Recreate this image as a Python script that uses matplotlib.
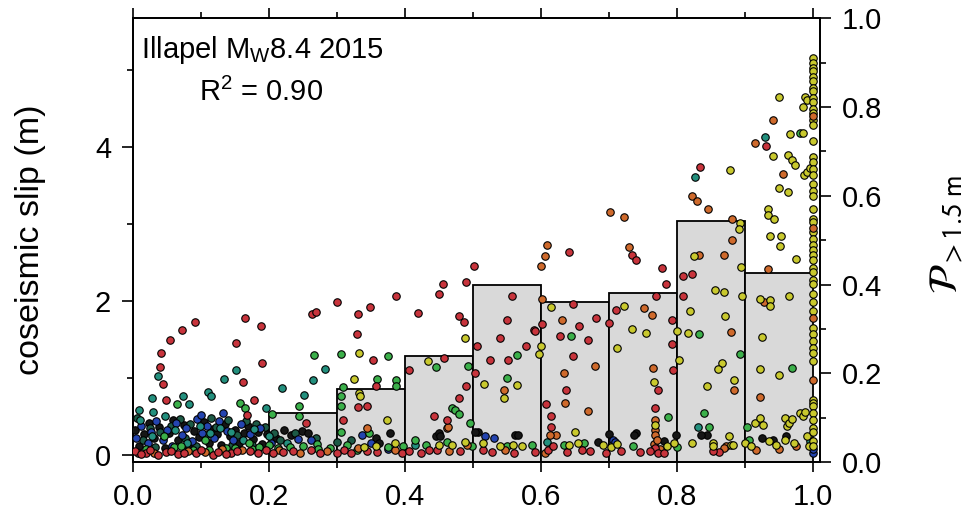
import numpy as np
import matplotlib
matplotlib.use("Agg")
import matplotlib.pyplot as plt
from matplotlib.ticker import MultipleLocator, FormatStrFormatter

plt.rcParams['font.family'] = ['Liberation Sans', 'DejaVu Sans']
plt.rcParams['mathtext.fontset'] = 'custom'
plt.rcParams['mathtext.rm'] = 'Liberation Sans'
plt.rcParams['mathtext.it'] = 'Liberation Sans:italic'
plt.rcParams['mathtext.bf'] = 'Liberation Sans:bold'

# ---------------------------------------------------------------- data
# probability of slip > 1.5 m per 0.1-wide bin of the rupture fraction
bin_left = [0.0, 0.1, 0.2, 0.3, 0.4, 0.5, 0.6, 0.7, 0.8, 0.9]
bin_prob = [0.0, 0.0, 0.110, 0.164, 0.240, 0.399, 0.362, 0.381, 0.543, 0.426]

# coseismic slip samples (fraction, slip in m), grouped by colour class
red_frac = [0.041, 0.040, 0.043, 0.054, 0.072, 0.091, 0.048, 0.151, 0.164, 0.188, 0.190, 0.161, 0.177, 0.167,
            0.263, 0.269, 0.299, 0.331, 0.329, 0.348, 0.386, 0.353, 0.357, 0.343, 0.331, 0.309, 0.419, 0.406, 0.254,
            0.501, 0.489, 0.456, 0.450, 0.479, 0.486, 0.557, 0.550, 0.540, 0.589, 0.505, 0.577, 0.457, 0.502, 0.524,
            0.551, 0.489, 0.479, 0.442, 0.461,
            0.640, 0.734, 0.739, 0.777, 0.784, 0.808, 0.822, 0.809, 0.769, 0.792, 0.792, 0.793, 0.710, 0.699, 0.771,
            0.767, 0.646, 0.656, 0.681, 0.601, 0.591, 0.627, 0.669, 0.646, 0.637, 0.607, 0.614, 0.614, 0.931, 0.833,
            0.007, 0.019, 0.048, 0.066, 0.092, 0.117, 0.144, 0.172, 0.220, 0.262, 0.300, 0.343, 0.359, 0.435, 0.447,
            0.480, 0.527, 0.591, 0.610, 0.617, 0.672, 0.717, 0.767, 0.772, 0.862,
            0.002, 0.012, 0.025, 0.036, 0.056, 0.075, 0.099, 0.124, 0.137, 0.153, 0.183, 0.195, 0.205, 0.235, 0.275,
            0.310, 0.320, 0.395, 0.405, 0.423, 0.515, 0.560, 0.638, 0.660, 0.695, 0.745, 0.760, 0.780, 0.853]
red_slip = [1.33, 1.14, 0.92, 1.49, 1.62, 1.72, 0.71, 1.45, 1.78, 1.67, 1.19, 0.95, 0.72, 0.52,
            1.83, 1.85, 1.99, 1.83, 1.57, 1.92, 2.06, 1.23, 0.90, 0.64, 0.62, 0.45, 1.84, 1.10, 0.42,
            2.45, 2.24, 2.22, 2.09, 1.81, 1.72, 2.07, 1.75, 1.52, 1.62, 1.41, 1.41, 1.26, 1.07, 1.23,
            1.23, 0.90, 0.74, 0.51, 0.46,
            2.63, 2.60, 2.53, 2.43, 2.22, 2.33, 2.35, 2.06, 2.07, 1.75, 1.44, 1.10, 1.88, 1.71, 0.84,
            0.61, 1.96, 1.68, 1.78, 1.70, 1.61, 1.55, 1.49, 1.29, 0.84, 0.66, 0.50, 0.36, 4.01, 3.74,
            0.03, 0.02, 0.04, 0.01, 0.03, 0.00, 0.02, 0.05, 0.04, 0.06, 0.03, 0.05, 0.04, 0.06, 0.07,
            0.05, 0.04, 0.04, 0.06, 0.12, 0.05, 0.05, 0.09, 0.03, 0.04,
            0.05, 0.01, 0.06, 0.00, 0.05, 0.02, 0.06, 0.04, 0.01, 0.05, 0.03, 0.07, 0.02, 0.05, 0.03,
            0.06, 0.02, 0.03, 0.05, 0.03, 0.06, 0.03, 0.04, 0.06, 0.02, 0.04, 0.05, 0.03, 0.05]

orange_frac = [0.343, 0.545, 0.821, 0.829, 0.701, 0.722, 0.608, 0.605, 0.599, 0.729, 0.832, 0.751, 0.763, 0.764,
               0.767, 0.767, 0.767, 0.601, 0.631, 0.679, 0.633, 0.635, 0.668, 0.880, 0.881, 0.868, 0.879, 0.884,
               0.872, 0.934, 0.928, 0.922, 0.940, 0.914, 0.956, 0.845, 0.461, 0.463, 0.621, 0.613,
               0.030, 0.080, 0.105, 0.130, 0.160, 0.215, 0.245, 0.285, 0.330, 0.385, 0.465, 0.491, 0.546, 0.605,
               0.765, 0.770, 0.775, 0.868, 0.915, 0.950, 0.975]
orange_slip = [0.35, 0.84, 3.36, 3.30, 3.16, 3.09, 2.72, 2.58, 2.46, 2.70, 2.59, 1.91, 1.82, 1.13,
               0.45, 0.32, 0.26, 2.03, 1.75, 1.15, 1.06, 0.68, 0.57, 3.07, 2.79, 2.60, 1.60, 0.84,
               0.11, 2.42, 1.98, 0.75, 4.35, 4.05, 3.65, 3.19, 0.35, 0.36, 0.26, 0.26,
               0.03, 0.05, 0.04, 0.08, 0.06, 0.07, 0.02, 0.05, 0.09, 0.06, 0.05, 0.13, 0.06, 0.03,
               0.14, 0.20, 0.08, 0.09, 0.06, 0.08, 0.12]

yellow_frac = [0.332, 0.325, 0.332, 0.333, 0.373, 0.488, 0.434, 0.565, 0.516, 0.545, 0.824, 0.818, 0.799, 0.815,
               0.803, 0.844, 0.722, 0.733, 0.754, 0.712, 0.765, 0.767, 0.615, 0.599, 0.596, 0.650, 0.892, 0.891,
               0.894, 0.855, 0.869, 0.895, 0.870, 0.865, 0.860, 0.884, 0.876, 0.879, 0.853, 0.922, 0.937, 0.937,
               0.964, 0.924, 0.922, 0.950, 0.914, 0.921, 0.926, 0.958, 0.961, 0.964, 0.969, 0.980, 0.985, 0.988,
               0.988, 0.991, 0.985, 0.949, 0.965, 0.940, 0.963, 0.968, 0.973, 0.987, 0.991, 0.995, 0.950, 0.963,
               0.934, 0.934, 0.942, 0.937, 0.953, 0.951, 0.974, 0.877, 0.985,
               0.339, 0.357, 0.385, 0.449, 0.468, 0.488, 0.515, 0.540, 0.559, 0.571, 0.640, 0.654, 0.690, 0.702,
               0.712, 0.785, 0.795, 0.821, 0.853, 0.882, 0.900, 0.908, 0.935, 0.945, 0.958, 0.972, 0.990, 0.993]
yellow_slip = [1.33, 0.99, 0.80, 0.76, 0.45, 1.52, 1.22, 0.91, 0.92, 0.74, 2.58, 1.87, 1.61, 1.59,
               1.23, 0.89, 1.94, 1.63, 1.59, 1.39, 0.95, 0.39, 1.92, 1.41, 1.31, 0.30, 3.01, 2.94,
               2.44, 2.14, 2.11, 2.06, 1.81, 1.20, 1.11, 0.97, 0.24, 0.13, 0.15, 2.03, 2.01, 1.93,
               2.06, 1.53, 1.12, 1.04, 0.42, 0.48, 0.39, 0.48, 0.37, 0.41, 0.47, 0.54, 0.50, 0.56,
               4.65, 4.61, 4.52, 4.65, 4.17, 3.88, 3.90, 3.83, 3.77, 3.64, 3.68, 3.72, 3.46, 3.41,
               3.20, 3.12, 3.07, 2.84, 2.84, 2.71, 2.55, 3.70, 4.18,
               0.10, 0.11, 0.15, 0.13, 0.13, 0.17, 0.15, 0.12, 0.13, 0.11, 0.13, 0.15, 0.13, 0.10,
               0.14, 0.12, 0.15, 0.15, 0.12, 0.13, 0.15, 0.11, 0.18, 0.13, 0.20, 0.16, 0.25, 0.12]

# samples lying on the far edge of the rupture (fraction = 1.0)
edge_frac = 1.0
edge_yellow_slip = [5.16, 5.09, 5.03, 4.98, 4.91, 4.85, 4.77, 4.72, 4.63, 4.58, 4.49, 4.44, 4.35, 4.28,
                    4.08, 3.87, 3.80, 3.71, 3.64, 3.52, 3.43, 3.36, 3.19, 3.07, 3.02, 2.89, 2.80, 2.73,
                    2.66, 2.59, 2.53, 2.43, 2.37, 2.27, 2.22, 2.09, 1.98, 1.87, 1.65, 1.57, 1.48, 1.39,
                    1.33, 1.22, 0.72, 0.67, 0.63, 0.54, 0.46, 0.35, 0.30, 0.18, 0.11]
edge_orange_slip = [4.40, 2.95, 1.78, 0.97]

green_frac = [0.065, 0.157, 0.165, 0.204, 0.243, 0.244, 0.266, 0.306, 0.375, 0.358, 0.386, 0.387, 0.309, 0.306,
              0.306, 0.346, 0.445, 0.492, 0.564, 0.549, 0.469, 0.473, 0.479, 0.495, 0.832, 0.839, 0.847, 0.787,
              0.644, 0.892, 0.968, 0.305, 0.980,
              0.060, 0.088, 0.112, 0.150, 0.175, 0.200, 0.230, 0.270, 0.290, 0.314, 0.329, 0.375, 0.397, 0.414,
              0.431, 0.461, 0.498, 0.549, 0.586, 0.633, 0.663, 0.735, 0.800, 0.902, 0.905,
              0.018, 0.045, 0.070, 0.105, 0.137, 0.170, 0.185, 0.213, 0.250, 0.272]
green_slip = [0.66, 0.68, 0.61, 0.53, 0.64, 0.50, 1.30, 1.31, 1.28, 0.99, 0.97, 0.90, 0.88, 0.76,
              0.63, 0.28, 1.14, 1.16, 1.30, 1.00, 0.61, 0.58, 0.53, 0.42, 1.57, 0.54, 0.36, 0.49,
              1.55, 1.31, 1.13, 0.30, 4.18,
              0.10, 0.07, 0.06, 0.09, 0.08, 0.13, 0.10, 0.14, 0.09, 0.13, 0.07, 0.10, 0.11, 0.19,
              0.13, 0.17, 0.11, 0.11, 0.13, 0.13, 0.15, 0.11, 0.10, 0.36, 0.20,
              0.08, 0.25, 0.12, 0.20, 0.09, 0.15, 0.10, 0.09, 0.12, 0.08]

teal_frac = [0.036, 0.027, 0.073, 0.082, 0.110, 0.115, 0.133, 0.151, 0.195, 0.218, 0.251, 0.265, 0.282, 0.831,
             0.826, 0.929, 0.008, 0.029, 0.414, 0.608, 0.995,
             0.010, 0.028, 0.047, 0.062, 0.079, 0.098, 0.113, 0.128, 0.143, 0.161, 0.178, 0.199, 0.226]
teal_slip = [1.03, 0.74, 0.76, 0.66, 0.82, 0.76, 0.99, 1.10, 0.61, 0.87, 0.78, 0.97, 1.12, 0.36,
             3.61, 4.13, 0.58, 0.56, 0.13, 0.17, 0.18,
             0.45, 0.25, 0.50, 0.32, 0.15, 0.38, 0.28, 0.35, 0.30, 0.20, 0.34, 0.24, 0.15]

blue_frac = [0.004, 0.012, 0.021, 0.026, 0.034, 0.043, 0.049, 0.057, 0.063, 0.071, 0.078, 0.086, 0.094, 0.101,
             0.099, 0.108, 0.119, 0.126, 0.132, 0.138, 0.147, 0.158, 0.171, 0.186, 0.203, 0.242, 0.262, 0.336,
             0.350, 0.374, 0.530, 0.517, 0.705, 0.708, 0.999, 1.000]
blue_slip = [0.22, 0.38, 0.15, 0.30, 0.44, 0.20, 0.33, 0.12, 0.41, 0.26, 0.35, 0.18, 0.47, 0.29,
             0.52, 0.38, 0.22, 0.44, 0.54, 0.31, 0.19, 0.40, 0.27, 0.35, 0.16, 0.21, 0.19, 0.26,
             0.15, 0.08, 0.22, 0.24, 0.20, 0.17, 0.03, 0.08]

black_frac = [0.002, 0.009, 0.016, 0.023, 0.031, 0.038, 0.046, 0.052, 0.059, 0.066, 0.074, 0.081, 0.089, 0.096,
              0.104, 0.111, 0.117, 0.123, 0.129, 0.135, 0.142, 0.150, 0.156, 0.163, 0.169, 0.176, 0.183, 0.190,
              0.197, 0.210, 0.221, 0.232, 0.248, 0.257, 0.357, 0.361, 0.377, 0.445, 0.449, 0.451, 0.507, 0.503,
              0.561, 0.566, 0.683, 0.699, 0.739, 0.737, 0.780, 0.798, 0.843, 0.835, 0.925, 0.940, 0.960]
black_slip = [0.33, 0.12, 0.27, 0.42, 0.22, 0.36, 0.09, 0.28, 0.45, 0.19, 0.39, 0.12, 0.31, 0.23,
              0.43, 0.15, 0.34, 0.27, 0.13, 0.40, 0.24, 0.33, 0.16, 0.29, 0.38, 0.21, 0.30, 0.14,
              0.27, 0.22, 0.33, 0.26, 0.31, 0.28, 0.22, 0.15, 0.28, 0.25, 0.28, 0.24, 0.30, 0.30,
              0.26, 0.26, 0.17, 0.27, 0.28, 0.26, 0.18, 0.26, 0.26, 0.26, 0.22, 0.20, 0.24]

dark_frac = [0.006, 0.014, 0.024, 0.032, 0.040, 0.055, 0.068, 0.076, 0.084, 0.092, 0.107, 0.114, 0.121, 0.140,
             0.145, 0.153, 0.166, 0.174, 0.180, 0.194, 0.207, 0.216, 0.238, 0.268, 0.300, 0.320]
dark_slip = [0.48, 0.20, 0.35, 0.10, 0.30, 0.38, 0.47, 0.22, 0.40, 0.11, 0.26, 0.48, 0.36, 0.45,
             0.13, 0.26, 0.44, 0.13, 0.40, 0.36, 0.28, 0.19, 0.29, 0.22, 0.17, 0.20]

# ---------------------------------------------------------------- figure
fig = plt.figure(figsize=(9.75, 5.21), dpi=100)
ax = fig.add_axes([0.1367, 0.1127, 0.7043, 0.8522])
axp = ax.twinx()
ax.set_zorder(axp.get_zorder() + 1)
ax.patch.set_visible(False)

# probability histogram on the right-hand scale
axp.bar(bin_left, bin_prob, width=0.1, align='edge', color='#d9d9d9',
        edgecolor='black', linewidth=1.3)
axp.set_ylim(0, 1.0)
axp.yaxis.set_major_locator(MultipleLocator(0.2))
axp.yaxis.set_minor_locator(MultipleLocator(0.1))
axp.yaxis.set_major_formatter(FormatStrFormatter('%.1f'))

# slip samples on the left-hand scale
groups = [
    (black_frac, black_slip, '#161616'),
    (dark_frac, dark_slip, '#1d5a46'),
    (blue_frac, blue_slip, '#2444b0'),
    (teal_frac, teal_slip, '#23907e'),
    (green_frac, green_slip, '#3bb04a'),
    (orange_frac, orange_slip, '#cf6a2c'),
    (red_frac, red_slip, '#c8343c'),
    (yellow_frac, yellow_slip, '#c9c92e'),
    ([edge_frac] * len(edge_yellow_slip), edge_yellow_slip, '#c9c92e'),
    ([edge_frac] * len(edge_orange_slip), edge_orange_slip, '#cf6a2c'),
]
for fx, sy, col in groups:
    ax.scatter(fx, sy, s=29, c=col, edgecolors='black', linewidths=0.8, zorder=3)

ax.set_xlim(0, 1.0098)
ax.set_ylim(-0.095, 5.67)
ax.xaxis.set_major_locator(MultipleLocator(0.2))
ax.xaxis.set_minor_locator(MultipleLocator(0.1))
ax.xaxis.set_major_formatter(FormatStrFormatter('%.1f'))
ax.yaxis.set_major_locator(MultipleLocator(2))
ax.yaxis.set_minor_locator(MultipleLocator(1))

for a in (ax, axp):
    for sp in a.spines.values():
        sp.set_linewidth(1.3)

ax.tick_params(axis='x', which='both', direction='out', top=True, bottom=True,
               labeltop=False, labelsize=21, pad=8, width=1.2)
ax.tick_params(axis='x', which='major', length=7)
ax.tick_params(axis='x', which='minor', length=4)
ax.tick_params(axis='y', which='both', direction='out', left=True, right=False,
               labelsize=21, pad=8, width=1.2)
ax.tick_params(axis='y', which='major', length=8)
ax.tick_params(axis='y', which='minor', length=4)
axp.tick_params(axis='y', which='both', direction='out', labelsize=21, pad=8, width=1.2)
axp.tick_params(axis='y', which='major', length=8)
axp.tick_params(axis='y', which='minor', length=4)

# annotations and axis labels
ax.text(0.011, 0.965, r'Illapel M$_{\mathrm{W}}$8.4 2015', transform=ax.transAxes,
        fontsize=21, va='top', ha='left')
ax.text(0.095, 0.865, r'R$^2$ = 0.90', transform=ax.transAxes,
        fontsize=21, va='top', ha='left')
fig.text(0.031, 0.54, 'coseismic slip (m)', rotation=90, fontsize=24.5,
         ha='center', va='center')
fig.text(0.971, 0.55, r'$\mathcal{P}_{>1.5\ \mathrm{m}}$', rotation=90, fontsize=29,
         ha='center', va='center', math_fontfamily='stixsans')

fig.savefig('out.png', dpi=100)
